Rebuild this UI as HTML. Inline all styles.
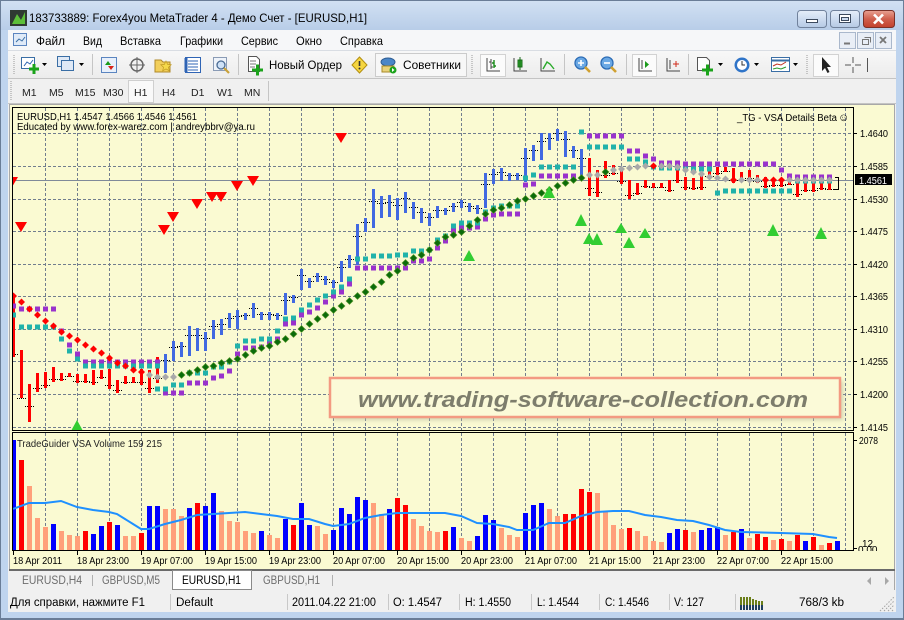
<!DOCTYPE html>
<html><head><meta charset="utf-8">
<style>
html,body{margin:0;padding:0;width:904px;height:620px;overflow:hidden;background:#bcd2ee}
svg{display:block}
text{font-family:"Liberation Sans","DejaVu Sans",sans-serif}
</style></head><body>
<svg width="904" height="620" viewBox="0 0 904 620" xmlns="http://www.w3.org/2000/svg">
<defs>
<linearGradient id="tg" x1="0" y1="0" x2="0" y2="1"><stop offset="0" stop-color="#d2e1f3"/><stop offset="1" stop-color="#b8cde8"/></linearGradient>
<linearGradient id="bb" x1="0" y1="0" x2="0" y2="1"><stop offset="0" stop-color="#e6eef9"/><stop offset="0.5" stop-color="#cddcf0"/><stop offset="1" stop-color="#b5c9e4"/></linearGradient>
<linearGradient id="rb" x1="0" y1="0" x2="0" y2="1"><stop offset="0" stop-color="#e8a293"/><stop offset="0.5" stop-color="#d0604e"/><stop offset="1" stop-color="#c2402c"/></linearGradient>
<linearGradient id="tb" x1="0" y1="0" x2="0" y2="1"><stop offset="0" stop-color="#f8f8f8"/><stop offset="1" stop-color="#ececec"/></linearGradient>
<clipPath id="cm"><rect x="13" y="108" width="840" height="322"/></clipPath>
<clipPath id="cv"><rect x="13" y="433" width="840" height="117"/></clipPath>
<clipPath id="ca"><rect x="854" y="433" width="40" height="118"/></clipPath>
<filter id="sh" x="-5%" y="-30%" width="110%" height="160%"><feGaussianBlur stdDeviation="2"/></filter>
</defs>

<!-- window frame -->
<rect x="0" y="0" width="904" height="620" fill="#bfd4ee"/>
<rect x="0" y="0" width="904" height="30" fill="url(#tg)"/>
<rect x="0.5" y="0.5" width="903" height="619" fill="none" stroke="#6a7d97"/>
<rect x="8" y="30" width="888" height="582" fill="#f0f0f0"/>

<!-- title -->
<rect x="10" y="10" width="17" height="16" fill="#2f3a33"/>
<path d="M12 24l5-10 4 6 4-8v12z" fill="#5cbf3a"/>
<text x="29" y="22" font-size="12" fill="#000" textLength="338" lengthAdjust="spacingAndGlyphs">183733889: Forex4you MetaTrader 4 - Демо Счет - [EURUSD,H1]</text>
<rect x="797.5" y="10.5" width="29" height="17" rx="3" fill="url(#bb)" stroke="#71829c"/>
<rect x="806.5" y="19.5" width="11" height="3" fill="#fff" stroke="#3c4a5e"/>
<rect x="830.5" y="10.5" width="29" height="17" rx="3" fill="url(#bb)" stroke="#71829c"/>
<rect x="839.5" y="14.5" width="11" height="8" fill="#fff" stroke="#3c4a5e"/><rect x="841.5" y="17.5" width="7" height="3" fill="#cddcf0" stroke="#3c4a5e"/>
<rect x="863.5" y="10.5" width="31" height="17" rx="3" fill="url(#rb)" stroke="#7a3027"/>
<path d="M874 14.5l9 9M883 14.5l-9 9" stroke="#fff" stroke-width="2.6"/>

<!-- menu -->
<rect x="8" y="30" width="888" height="20" fill="#f6f7f9"/>
<rect x="13.5" y="33.5" width="13" height="12" fill="#dfeaf8" stroke="#5b85c0"/><path d="M16 42l3-3 3 2 3-4" stroke="#3a6ea5" fill="none"/>
<g font-size="12" fill="#000">
<text x="36" y="45" textLength="29" lengthAdjust="spacingAndGlyphs">Файл</text>
<text x="83" y="45" textLength="19" lengthAdjust="spacingAndGlyphs">Вид</text>
<text x="120" y="45" textLength="41" lengthAdjust="spacingAndGlyphs">Вставка</text>
<text x="180" y="45" textLength="43" lengthAdjust="spacingAndGlyphs">Графики</text>
<text x="241" y="45" textLength="37" lengthAdjust="spacingAndGlyphs">Сервис</text>
<text x="296" y="45" textLength="26" lengthAdjust="spacingAndGlyphs">Окно</text>
<text x="340" y="45" textLength="43" lengthAdjust="spacingAndGlyphs">Справка</text>
</g>
<g fill="#e9eef6" stroke="#aab8cc">
<rect x="839.5" y="32.5" width="16" height="16"/><rect x="857.5" y="32.5" width="16" height="16"/><rect x="875.5" y="32.5" width="16" height="16"/>
</g>
<path d="M844 43.5h6" stroke="#777" stroke-width="2"/>
<path d="M862.5 39.5h6v5h-6zM864.5 37.5h6v5" fill="none" stroke="#777"/>
<path d="M880 37l6 6M886 37l-6 6" stroke="#777" stroke-width="1.8"/>

<!-- toolbar row -->
<rect x="8" y="50" width="888" height="28" fill="url(#tb)"/>
<path d="M8 50.5h888" stroke="#d9dde3"/>
<path d="M8 78.5h888" stroke="#c4c4c4"/>
<path d="M14 55v20" stroke="#9a9a9a" stroke-dasharray="1 1"/>
<rect x="21.5" y="57.5" width="13" height="11" fill="#fff" stroke="#3a6ea5"/>
<path d="M24 66l3-4 3 2 3-4" stroke="#2a62b0" fill="none"/>
<path d="M29 69h10M34 64v10" stroke="#1aa31a" stroke-width="3"/>
<path d="M42 63h5l-2.5 3z" fill="#000"/>
<rect x="57.5" y="56.5" width="12" height="10" fill="#dfe9f6" stroke="#3a6ea5"/>
<rect x="61.5" y="60.5" width="12" height="10" fill="#dfe9f6" stroke="#3a6ea5"/>
<path d="M79 63h5l-2.5 3z" fill="#000"/>
<path d="M92.5 54v21" stroke="#c5c5c5"/>
<rect x="101.5" y="57.5" width="15" height="15" fill="#e8f0fb" stroke="#5b85c0"/>
<path d="M105 65l3-4 3 4z" fill="#1a9a1a"/><path d="M108 66l3 4 3-4z" fill="#d8251a"/>
<circle cx="137" cy="65" r="6" fill="none" stroke="#666" stroke-width="1.5"/>
<path d="M137 57v16M129 65h16" stroke="#666"/>
<path d="M155 60h6l2 2h7v10h-15z" fill="#f2cf5b" stroke="#b08a2a"/>
<path d="M166 61l1.6 3.4 3.6.4-2.7 2.4.8 3.6-3.3-1.9-3.3 1.9.8-3.6-2.7-2.4 3.6-.4z" fill="#f5d84a" stroke="#c09a20" stroke-width=".7"/>
<rect x="185.5" y="57.5" width="15" height="15" fill="#fff" stroke="#2f64b5"/>
<path d="M188 61h10M188 64h10M188 67h10M188 70h10" stroke="#2f64b5"/><path d="M186 58v14" stroke="#2f64b5" stroke-width="3"/>
<rect x="213.5" y="57.5" width="13" height="13" fill="#eef3fa" stroke="#8a9bb5"/>
<circle cx="221" cy="65" r="4" fill="#cfe2f7" stroke="#4a6b94" stroke-width="1.3"/><path d="M224 68l5 5" stroke="#c9a23a" stroke-width="2.2"/>
<path d="M238.5 54v21" stroke="#c5c5c5"/>
<path d="M248.5 56.5h8l3 3v12h-11z" fill="#fff" stroke="#555"/>
<path d="M250 61h6M250 64h6M250 67h5" stroke="#777"/>
<path d="M252 70h11M257.5 64.5v11" stroke="#1aa31a" stroke-width="3"/>
<text x="269" y="69" font-size="12" fill="#000" textLength="73" lengthAdjust="spacingAndGlyphs">Новый Ордер</text>
<path d="M359.5 57l7.5 8-7.5 8-7.5-8z" fill="#f6d640" stroke="#b38f10"/>
<path d="M359.5 61v5" stroke="#333" stroke-width="1.6"/><circle cx="359.5" cy="68.5" r="1" fill="#333"/>
<rect x="375.5" y="53.5" width="91" height="23" fill="#f7f7f7" stroke="#cbcbcb"/>
<ellipse cx="388" cy="62" rx="7" ry="4" fill="#4a86c8" stroke="#2c5a90"/>
<path d="M382 66h12v6h-12z" fill="#e9d27a" stroke="#a88a2a"/>
<circle cx="393" cy="70" r="3.5" fill="#1aa31a"/><path d="M392 68v4l2.5-2z" fill="#fff"/>
<text x="403" y="69" font-size="12" fill="#000" textLength="58" lengthAdjust="spacingAndGlyphs">Советники</text>
<path d="M472 55v20" stroke="#9a9a9a" stroke-dasharray="1 1"/>
<rect x="480.5" y="54.5" width="25" height="22" fill="#fbfbfb" stroke="#d2d2d2"/>
<path d="M487 58v13h13M491 59v10M489 62h2M491 67h2" stroke="#444" fill="none"/><path d="M494 60v8M492 63h2M494 66h2" stroke="#1a8a1a" fill="none" stroke-width="1.4"/>
<path d="M514 58v13h13" stroke="#444" fill="none"/><rect x="518" y="60" width="4" height="7" fill="#2aaa2a" stroke="#1a6a1a"/><path d="M520 57v13" stroke="#1a6a1a"/>
<path d="M541 58v13h14" stroke="#444" fill="none"/><path d="M543 69l4-7 3 2 4 5" stroke="#2aaa2a" fill="none" stroke-width="1.4"/>
<path d="M564.5 54v21" stroke="#c5c5c5"/>
<circle cx="581" cy="63" r="6" fill="#6aa8e4" stroke="#2c6cb5" stroke-width="1.3"/><path d="M578 63h6M581 60v6" stroke="#fff" stroke-width="1.6"/><path d="M585 67l5 5" stroke="#d0a030" stroke-width="2.6"/>
<circle cx="607" cy="63" r="6" fill="#6aa8e4" stroke="#2c6cb5" stroke-width="1.3"/><path d="M604 63h6" stroke="#fff" stroke-width="1.6"/><path d="M611 67l5 5" stroke="#d0a030" stroke-width="2.6"/>
<path d="M626.5 54v21" stroke="#c5c5c5"/>
<rect x="632.5" y="54.5" width="24" height="22" fill="#fbfbfb" stroke="#d2d2d2"/>
<path d="M639 58v13h13M642 60v9" stroke="#444" fill="none"/><path d="M645 61v7l4-3.5z" fill="#1a9a1a"/>
<path d="M667 58v13h13M670 60v9" stroke="#444" fill="none"/><path d="M673 64h6M676 61v6" stroke="#d02a1a"/>
<path d="M688.5 54v21" stroke="#c5c5c5"/>
<path d="M697.5 57.5h9l3 3v10h-12z" fill="#fff" stroke="#555"/><path d="M702 70h11M707.5 64.5v11" stroke="#1aa31a" stroke-width="3"/>
<path d="M718 63h5l-2.5 3z" fill="#000"/>
<circle cx="742" cy="65" r="7.5" fill="#2f74c8"/><circle cx="742" cy="65" r="5" fill="#fff"/><path d="M742 61v4h3" stroke="#333" fill="none"/>
<path d="M754 63h5l-2.5 3z" fill="#000"/>
<rect x="771.5" y="57.5" width="18" height="14" fill="#fff" stroke="#3a6ea5"/><path d="M771.5 60.5h18" stroke="#3a6ea5" stroke-width="2"/><path d="M773 66l4-2 4 1 5-3" stroke="#c03020" fill="none"/><path d="M773 69l4-1 4 1 5-2" stroke="#2a9a2a" fill="none"/>
<path d="M793 63h5l-2.5 3z" fill="#000"/>
<path d="M807 55v20" stroke="#9a9a9a" stroke-dasharray="1 1"/>
<rect x="813.5" y="54.5" width="25" height="22" fill="#fbfbfb" stroke="#d2d2d2"/>
<path d="M822 57v14l3-3 2.5 5 2-1-2.5-5h4z" fill="#222"/>
<path d="M853 57v6M853 67v6M845 65h6M855 65h6" stroke="#555"/>
<path d="M867.5 58v14" stroke="#555"/>

<!-- timeframe row -->
<path d="M8 103.5h888" stroke="#c4c4c4"/>
<path d="M11 81v20" stroke="#9a9a9a" stroke-dasharray="1 1"/>
<rect x="128.5" y="80.5" width="25" height="22" fill="#f9f9f9" stroke="#cfcfcf"/>
<g font-size="10.5" fill="#222">
<text x="22" y="96">M1</text><text x="49" y="96">M5</text><text x="75" y="96">M15</text><text x="103" y="96">M30</text>
<text x="134" y="96">H1</text><text x="162" y="96">H4</text><text x="191" y="96">D1</text><text x="217" y="96">W1</text><text x="244" y="96">MN</text>
</g>
<path d="M268.5 81v20" stroke="#c5c5c5"/>

<!-- chart window -->
<rect x="9" y="104" width="886" height="467" fill="#fafad2"/>
<path d="M9 104.5h886M9.5 104v467M894.5 104v467" stroke="#a8a8a8"/>
<path d="M9 570h886" stroke="#6a6a6a" stroke-width="2"/>

<!-- main grid -->
<g stroke="#717d8e" stroke-dasharray="3 2" fill="none">
<path d="M45.5 108V430M77.5 108V430M109.5 108V430M141.5 108V430M173.5 108V430M205.5 108V430M237.5 108V430M269.5 108V430M301.5 108V430M333.5 108V430M365.5 108V430M397.5 108V430M429.5 108V430M461.5 108V430M493.5 108V430M525.5 108V430M557.5 108V430M589.5 108V430M621.5 108V430M653.5 108V430M685.5 108V430M717.5 108V430M749.5 108V430M781.5 108V430M813.5 108V430M845.5 108V430"/>
<path d="M13 133.5H853M13 166.5H853M13 199.5H853M13 231.5H853M13 264.5H853M13 296.5H853M13 329.5H853M13 361.5H853M13 394.5H853M13 427.5H853"/>
<path d="M45.5 433V550M77.5 433V550M109.5 433V550M141.5 433V550M173.5 433V550M205.5 433V550M237.5 433V550M269.5 433V550M301.5 433V550M333.5 433V550M365.5 433V550M397.5 433V550M429.5 433V550M461.5 433V550M493.5 433V550M525.5 433V550M557.5 433V550M589.5 433V550M621.5 433V550M653.5 433V550M685.5 433V550M717.5 433V550M749.5 433V550M781.5 433V550M813.5 433V550M845.5 433V550"/>
</g>

<!-- watermark -->
<rect x="333" y="381" width="510" height="39" fill="#b8b698" opacity="0.6" filter="url(#sh)"/>
<rect x="330" y="378" width="510" height="39" fill="#fbfad8" stroke="#f39a82" stroke-width="2.5"/>
<text x="358" y="407" font-size="22" font-weight="bold" font-style="italic" fill="#7d7d6c" textLength="450" lengthAdjust="spacingAndGlyphs">www.trading-software-collection.com</text>

<g clip-path="url(#cm)">
<path d="M13 180.5H853" stroke="#7f8a99"/>
<path stroke="#000" stroke-dasharray="1 1" fill="none" d="M9 354.5h10M17 398.5h10M25 406.5h10M33 388.5h10M41 385.5h10M49 379.5h10M57 379.5h10M65 376.5h10M73 381.5h10M81 381.5h10M89 382.5h10M97 377.5h10M105 385.5h10M113 390.5h10M121 382.5h10M129 382.5h10M137 382.5h10M145 388.5h10M153 378.5h10M161 360.5h10M169 347.5h10M177 346.5h10M185 335.5h10M193 335.5h10M201 338.5h10M209 326.5h10M217 324.5h10M225 318.5h10M233 316.5h10M241 315.5h10M249 308.5h10M257 314.5h10M265 314.5h10M273 315.5h10M281 300.5h10M289 297.5h10M297 275.5h10M305 281.5h10M313 276.5h10M321 279.5h10M329 282.5h10M337 267.5h10M345 259.5h10M353 236.5h10M361 222.5h10M369 201.5h10M377 203.5h10M385 202.5h10M393 205.5h10M401 198.5h10M409 207.5h10M417 212.5h10M425 217.5h10M433 210.5h10M441 210.5h10M449 206.5h10M457 202.5h10M465 206.5h10M473 208.5h10M481 184.5h10M489 174.5h10M497 172.5h10M505 175.5h10M513 175.5h10M521 158.5h10M529 150.5h10M537 141.5h10M545 138.5h10M553 133.5h10M561 139.5h10M569 150.5h10M577 158.5h10M585 188.5h10M593 192.5h10M601 175.5h10M609 173.5h10M617 181.5h10M625 195.5h10M633 193.5h10M641 186.5h10M649 187.5h10M657 187.5h10M665 190.5h10M673 180.5h10M681 187.5h10M689 188.5h10M697 187.5h10M705 176.5h10M713 173.5h10M721 171.5h10M729 180.5h10M737 180.5h10M745 178.5h10M753 181.5h10M761 186.5h10M769 185.5h10M777 185.5h10M785 184.5h10M793 194.5h10M801 190.5h10M809 190.5h10M817 188.5h10M825 189.5h10"/>
<path stroke="#ff0000" stroke-width="3" fill="none" d="M13.5 295V357M21.5 350V398M29.5 384V422M37.5 373V392M45.5 372V388M53.5 367V382M61.5 373V381M69.5 373V377M77.5 374V383M85.5 374V383M93.5 370V385M101.5 370V379M109.5 369V389M117.5 380V393M125.5 376V384M133.5 377V383M141.5 369V385M149.5 370V393M157.5 357V383M589.5 158V196M597.5 170V197M605.5 161V178M613.5 165V175M621.5 167V184M629.5 180V199M637.5 183V195M645.5 180V188M653.5 183V188M661.5 183V188M669.5 180V192M677.5 170V183M685.5 177V190M693.5 178V190M701.5 175V190M709.5 168V178M717.5 167V175M725.5 167V172M733.5 168V183M741.5 172V182M749.5 170V180M757.5 175V183M765.5 177V188M773.5 178V187M781.5 178V187M789.5 180V185M797.5 180V197M805.5 182V192M813.5 180V192M821.5 182V190M829.5 183V190"/>
<path stroke="#4169e1" stroke-width="3" fill="none" d="M165.5 354V373M173.5 341V361M181.5 342V357M189.5 326V356M197.5 328V351M205.5 332V351M213.5 320V339M221.5 319V335M229.5 313V328M237.5 310V329M245.5 313V320M253.5 303V318M261.5 312V320M269.5 312V320M277.5 313V320M285.5 293V315M293.5 295V303M301.5 269V290M309.5 278V288M317.5 273V282M325.5 276V285M333.5 280V288M341.5 261V282M349.5 255V268M357.5 224V265M365.5 218V232M373.5 189V228M381.5 196V218M389.5 195V217M397.5 198V220M405.5 192V213M413.5 202V219M421.5 208V223M429.5 213V226M437.5 206V218M445.5 208V215M453.5 203V212M461.5 200V208M469.5 203V212M477.5 205V214M485.5 173V208M493.5 169V184M501.5 168V181M509.5 173V181M517.5 173V180M525.5 148V182M533.5 145V161M541.5 133V160M549.5 133V150M557.5 129V141M565.5 131V157M573.5 146V158M581.5 149V180"/>
<path d="M835 177.5h3.5V189.5H834" stroke="#000" fill="none"/>
<path stroke="#9932cc" stroke-width="5" fill="none" d="M11 306h5M19 309h5M27 309h5M35 309h5M43 309h5M51 309h5M59 331h5M67 345h5M75 354h5M83 362h5M91 362h5M99 362h5M107 362h5M115 362h5M123 362h5M131 362h5M139 362h5M147 362h5M155 362h5M163 393h5M171 393h5M179 393h5M187 383h5M195 383h5M203 383h5M211 378h5M219 376h5M227 371h5M235 354h5M243 348h5M251 348h5M259 347h5M267 343h5M275 339h5M283 324h5M291 323h5M299 315h5M307 312h5M315 308h5M323 302h5M331 296h5M339 292h5M347 284h5M355 268h5M363 268h5M371 268h5M379 268h5M387 268h5M395 268h5M403 268h5M411 261h5M419 261h5M427 259h5M435 248h5M443 241h5M451 231h5M459 228h5M467 228h5M475 227h5M483 219h5M491 215h5M499 214h5M507 214h5M515 214h5M523 185h5M531 184h5M539 176h5M547 176h5M555 176h5M563 176h5M571 176h5M587 136h5M595 136h5M603 136h5M611 136h5M619 136h5M627 151h5M635 151h5M643 156h5M651 159h5M659 163h5M667 163h5M675 163h5M683 164h5M691 164h5M699 164h5M707 164h5M715 164h5M723 164h5M731 164h5M739 164h5M747 164h5M755 164h5M763 164h5M771 164h5M779 170h5M787 176h5M795 177h5M803 177h5M811 177h5M819 177h5M827 177h5"/>
<path stroke="#20b2aa" stroke-width="5" fill="none" d="M11 315h5M19 327h5M27 327h5M35 327h5M43 327h5M51 327h5M59 339h5M67 351h5M75 359h5M83 366h5M91 366h5M99 366h5M107 366h5M115 366h5M123 366h5M131 366h5M139 366h5M147 366h5M155 366h5M155 389h5M163 389h5M171 385h5M179 385h5M187 373h5M195 373h5M203 373h5M211 367h5M219 367h5M227 362h5M235 346h5M243 341h5M251 341h5M259 339h5M267 339h5M275 331h5M283 319h5M291 318h5M299 310h5M307 305h5M315 300h5M323 296h5M331 292h5M339 287h5M347 279h5M355 259h5M363 259h5M371 256h5M379 256h5M387 256h5M395 255h5M403 255h5M411 251h5M419 251h5M427 250h5M435 240h5M443 236h5M451 226h5M459 223h5M467 223h5M475 223h5M483 212h5M491 208h5M499 206h5M507 206h5M515 206h5M523 178h5M531 175h5M539 167h5M547 167h5M555 167h5M563 167h5M571 167h5M579 132h5M587 147h5M595 147h5M603 147h5M611 147h5M619 147h5M627 159h5M635 159h5M643 162h5M651 167h5M659 168h5M667 168h5M675 168h5M683 169h5M691 169h5M699 169h5M707 169h5M715 193h5M723 191h5M731 191h5M739 191h5M747 191h5M755 191h5M763 191h5M771 191h5M779 191h5M787 191h5M795 181h5M803 181h5M811 181h5M819 181h5M827 181h5"/>
<path fill="#ff0000" d="M13.5 292.5l3.5 3.5-3.5 3.5-3.5-3.5zM21.5 298.5l3.5 3.5-3.5 3.5-3.5-3.5zM29.5 305.5l3.5 3.5-3.5 3.5-3.5-3.5zM37.5 311.5l3.5 3.5-3.5 3.5-3.5-3.5zM45.5 317.5l3.5 3.5-3.5 3.5-3.5-3.5zM53.5 322.5l3.5 3.5-3.5 3.5-3.5-3.5zM61.5 328.5l3.5 3.5-3.5 3.5-3.5-3.5zM69.5 332.5l3.5 3.5-3.5 3.5-3.5-3.5zM77.5 336.5l3.5 3.5-3.5 3.5-3.5-3.5zM85.5 341.5l3.5 3.5-3.5 3.5-3.5-3.5zM93.5 345.5l3.5 3.5-3.5 3.5-3.5-3.5zM101.5 349.5l3.5 3.5-3.5 3.5-3.5-3.5zM109.5 354.5l3.5 3.5-3.5 3.5-3.5-3.5zM117.5 359.5l3.5 3.5-3.5 3.5-3.5-3.5zM125.5 362.5l3.5 3.5-3.5 3.5-3.5-3.5zM133.5 366.5l3.5 3.5-3.5 3.5-3.5-3.5zM141.5 368.5l3.5 3.5-3.5 3.5-3.5-3.5zM653.5 162.5l3.5 3.5-3.5 3.5-3.5-3.5zM733.5 176.5l3.5 3.5-3.5 3.5-3.5-3.5zM765.5 176.5l3.5 3.5-3.5 3.5-3.5-3.5zM773.5 176.5l3.5 3.5-3.5 3.5-3.5-3.5zM781.5 176.5l3.5 3.5-3.5 3.5-3.5-3.5z"/>
<path fill="#a9a9a9" d="M149.5 371.5l3.5 3.5-3.5 3.5-3.5-3.5zM157.5 373.5l3.5 3.5-3.5 3.5-3.5-3.5zM165.5 373.5l3.5 3.5-3.5 3.5-3.5-3.5zM173.5 373.5l3.5 3.5-3.5 3.5-3.5-3.5zM589.5 171.5l3.5 3.5-3.5 3.5-3.5-3.5zM597.5 171.5l3.5 3.5-3.5 3.5-3.5-3.5zM613.5 166.5l3.5 3.5-3.5 3.5-3.5-3.5zM621.5 165.5l3.5 3.5-3.5 3.5-3.5-3.5zM629.5 164.5l3.5 3.5-3.5 3.5-3.5-3.5zM637.5 163.5l3.5 3.5-3.5 3.5-3.5-3.5zM645.5 162.5l3.5 3.5-3.5 3.5-3.5-3.5zM661.5 162.5l3.5 3.5-3.5 3.5-3.5-3.5zM669.5 162.5l3.5 3.5-3.5 3.5-3.5-3.5zM677.5 163.5l3.5 3.5-3.5 3.5-3.5-3.5zM685.5 166.5l3.5 3.5-3.5 3.5-3.5-3.5zM693.5 168.5l3.5 3.5-3.5 3.5-3.5-3.5zM701.5 170.5l3.5 3.5-3.5 3.5-3.5-3.5zM709.5 173.5l3.5 3.5-3.5 3.5-3.5-3.5zM717.5 174.5l3.5 3.5-3.5 3.5-3.5-3.5zM725.5 175.5l3.5 3.5-3.5 3.5-3.5-3.5zM741.5 176.5l3.5 3.5-3.5 3.5-3.5-3.5zM749.5 176.5l3.5 3.5-3.5 3.5-3.5-3.5zM757.5 176.5l3.5 3.5-3.5 3.5-3.5-3.5zM789.5 176.5l3.5 3.5-3.5 3.5-3.5-3.5zM797.5 176.5l3.5 3.5-3.5 3.5-3.5-3.5zM805.5 176.5l3.5 3.5-3.5 3.5-3.5-3.5zM813.5 176.5l3.5 3.5-3.5 3.5-3.5-3.5zM821.5 176.5l3.5 3.5-3.5 3.5-3.5-3.5zM829.5 176.5l3.5 3.5-3.5 3.5-3.5-3.5z"/>
<path fill="#0b6b0b" stroke="#5a9a2a" stroke-width="0.6" d="M181.5 371.5l3.5 3.5-3.5 3.5-3.5-3.5zM189.5 369.5l3.5 3.5-3.5 3.5-3.5-3.5zM197.5 366.5l3.5 3.5-3.5 3.5-3.5-3.5zM205.5 363.5l3.5 3.5-3.5 3.5-3.5-3.5zM213.5 362.5l3.5 3.5-3.5 3.5-3.5-3.5zM221.5 359.5l3.5 3.5-3.5 3.5-3.5-3.5zM229.5 357.5l3.5 3.5-3.5 3.5-3.5-3.5zM237.5 355.5l3.5 3.5-3.5 3.5-3.5-3.5zM245.5 351.5l3.5 3.5-3.5 3.5-3.5-3.5zM253.5 347.5l3.5 3.5-3.5 3.5-3.5-3.5zM261.5 344.5l3.5 3.5-3.5 3.5-3.5-3.5zM269.5 342.5l3.5 3.5-3.5 3.5-3.5-3.5zM277.5 338.5l3.5 3.5-3.5 3.5-3.5-3.5zM285.5 335.5l3.5 3.5-3.5 3.5-3.5-3.5zM293.5 330.5l3.5 3.5-3.5 3.5-3.5-3.5zM301.5 325.5l3.5 3.5-3.5 3.5-3.5-3.5zM309.5 320.5l3.5 3.5-3.5 3.5-3.5-3.5zM317.5 315.5l3.5 3.5-3.5 3.5-3.5-3.5zM325.5 311.5l3.5 3.5-3.5 3.5-3.5-3.5zM333.5 306.5l3.5 3.5-3.5 3.5-3.5-3.5zM341.5 302.5l3.5 3.5-3.5 3.5-3.5-3.5zM349.5 297.5l3.5 3.5-3.5 3.5-3.5-3.5zM357.5 292.5l3.5 3.5-3.5 3.5-3.5-3.5zM365.5 288.5l3.5 3.5-3.5 3.5-3.5-3.5zM373.5 283.5l3.5 3.5-3.5 3.5-3.5-3.5zM381.5 278.5l3.5 3.5-3.5 3.5-3.5-3.5zM389.5 271.5l3.5 3.5-3.5 3.5-3.5-3.5zM397.5 267.5l3.5 3.5-3.5 3.5-3.5-3.5zM405.5 259.5l3.5 3.5-3.5 3.5-3.5-3.5zM413.5 254.5l3.5 3.5-3.5 3.5-3.5-3.5zM421.5 251.5l3.5 3.5-3.5 3.5-3.5-3.5zM429.5 246.5l3.5 3.5-3.5 3.5-3.5-3.5zM437.5 239.5l3.5 3.5-3.5 3.5-3.5-3.5zM445.5 233.5l3.5 3.5-3.5 3.5-3.5-3.5zM453.5 231.5l3.5 3.5-3.5 3.5-3.5-3.5zM461.5 228.5l3.5 3.5-3.5 3.5-3.5-3.5zM469.5 222.5l3.5 3.5-3.5 3.5-3.5-3.5zM477.5 216.5l3.5 3.5-3.5 3.5-3.5-3.5zM485.5 210.5l3.5 3.5-3.5 3.5-3.5-3.5zM493.5 206.5l3.5 3.5-3.5 3.5-3.5-3.5zM501.5 204.5l3.5 3.5-3.5 3.5-3.5-3.5zM509.5 201.5l3.5 3.5-3.5 3.5-3.5-3.5zM517.5 197.5l3.5 3.5-3.5 3.5-3.5-3.5zM525.5 195.5l3.5 3.5-3.5 3.5-3.5-3.5zM533.5 192.5l3.5 3.5-3.5 3.5-3.5-3.5zM541.5 189.5l3.5 3.5-3.5 3.5-3.5-3.5zM549.5 186.5l3.5 3.5-3.5 3.5-3.5-3.5zM557.5 182.5l3.5 3.5-3.5 3.5-3.5-3.5zM565.5 179.5l3.5 3.5-3.5 3.5-3.5-3.5zM573.5 176.5l3.5 3.5-3.5 3.5-3.5-3.5zM581.5 174.5l3.5 3.5-3.5 3.5-3.5-3.5zM605.5 168.5l3.5 3.5-3.5 3.5-3.5-3.5z"/>
<path fill="#ff0000" d="M6 177h12l-6 10zM15 222h12l-6 10zM158 225h12l-6 10zM167 212h12l-6 10zM191 199h12l-6 10zM206 192h12l-6 10zM215 192h12l-6 10zM231 181h12l-6 10zM247 176h12l-6 10zM335 133h12l-6 10z"/>
<path fill="#32cd32" d="M71 431h12l-6-11zM463 261h12l-6-11zM543 198h12l-6-12zM575 226h12l-6-12zM583 244h12l-6-11zM591 245h12l-6-12zM615 233h12l-6-10zM623 248h12l-6-11zM639 238h12l-6-10zM767 236h12l-6-12zM815 239h12l-6-12z"/>
</g>

<!-- volume -->
<g clip-path="url(#cv)">
<path stroke="#0000ff" stroke-width="5" fill="none" d="M13.5 440V550M53.5 524V550M93.5 534V550M101.5 526V550M117.5 525V550M149.5 506V550M157.5 506V550M189.5 508V550M205.5 506V550M213.5 493V550M261.5 531V550M285.5 519V550M301.5 503V550M309.5 525V550M333.5 530V550M341.5 508V550M349.5 514V550M357.5 497V550M365.5 500V550M389.5 509V550M453.5 527V550M477.5 536V550M485.5 515V550M493.5 520V550M525.5 513V550M533.5 505V550M541.5 503V550M669.5 533V550M677.5 529V550M701.5 530V550M709.5 528V550M717.5 527V550M741.5 529V550M805.5 541V550M837.5 541V550"/>
<path stroke="#ff0000" stroke-width="5" fill="none" d="M21.5 460V550M85.5 531V550M109.5 522V550M141.5 533V550M197.5 503V550M293.5 525V550M397.5 498V550M405.5 505V550M445.5 531V550M565.5 514V550M573.5 514V550M581.5 489V550M589.5 492V550M629.5 528V550M685.5 530V550M733.5 532V550M757.5 534V550M765.5 537V550M781.5 539V550M797.5 535V550M813.5 537V550M829.5 543V550"/>
<path stroke="#ffa07a" stroke-width="5" fill="none" d="M29.5 486V550M37.5 518V550M45.5 527V550M61.5 531V550M69.5 535V550M77.5 536V550M125.5 536V550M133.5 536V550M165.5 509V550M173.5 509V550M181.5 516V550M221.5 511V550M229.5 521V550M237.5 522V550M245.5 531V550M253.5 533V550M269.5 535V550M277.5 538V550M317.5 526V550M325.5 534V550M373.5 503V550M381.5 514V550M413.5 519V550M421.5 526V550M429.5 531V550M437.5 532V550M461.5 538V550M469.5 541V550M501.5 528V550M509.5 535V550M517.5 537V550M549.5 509V550M557.5 516V550M597.5 493V550M605.5 512V550M613.5 525V550M621.5 529V550M637.5 531V550M645.5 536V550M653.5 541V550M661.5 542V550M693.5 532V550M725.5 535V550M749.5 538V550M773.5 540V550M789.5 541V550M821.5 545V550"/>
<polyline fill="none" stroke="#1e90ff" stroke-width="2" points="13,509 29,503 45,503 61,501 77,507 93,510 109,512 117,514 125,519 133,524 141,529 149,529 165,524 181,520 197,515 213,514 245,512 261,514 277,516 293,519 309,519 325,524 333,526 349,524 365,518 381,515 397,513 445,513 461,516 477,523 493,524 509,527 517,530 533,530 549,523 565,523 581,516 597,512 613,511 629,511 645,515 661,517 677,520 693,521 709,525 725,530 741,532 781,533 813,534 829,537 837,538"/>
</g>

<!-- plot borders -->
<rect x="12.5" y="107.5" width="841" height="323" fill="none" stroke="#000"/>
<rect x="12.5" y="432.5" width="841" height="118" fill="none" stroke="#000"/>

<!-- chart texts -->
<g font-size="10" fill="#000">
<text x="17" y="120" textLength="180" lengthAdjust="spacingAndGlyphs">EURUSD,H1  1.4547 1.4566 1.4546 1.4561</text>
<text x="17" y="130" textLength="238" lengthAdjust="spacingAndGlyphs">Educated by www.forex-warez.com | andreybbrv@ya.ru</text>
<text x="737" y="121" textLength="100" lengthAdjust="spacingAndGlyphs">_TG - VSA Details Beta</text>
<text x="838" y="121" font-size="11" font-family="DejaVu Sans, sans-serif">☺</text>
<text x="17" y="447" fill="#222" textLength="145" lengthAdjust="spacingAndGlyphs">TradeGuider VSA Volume 159 215</text>
</g>

<!-- price axis -->
<path stroke="#000" d="M853 133.5h4M853 166.5h4M853 199.5h4M853 231.5h4M853 264.5h4M853 296.5h4M853 329.5h4M853 361.5h4M853 394.5h4M853 427.5h4M853 440.5h4M853 548.5h4"/>
<g font-size="10" fill="#000">
<text x="860" y="137" textLength="28" lengthAdjust="spacingAndGlyphs">1.4640</text>
<text x="860" y="170" textLength="28" lengthAdjust="spacingAndGlyphs">1.4585</text>
<text x="860" y="203" textLength="28" lengthAdjust="spacingAndGlyphs">1.4530</text>
<text x="860" y="235" textLength="28" lengthAdjust="spacingAndGlyphs">1.4475</text>
<text x="860" y="268" textLength="28" lengthAdjust="spacingAndGlyphs">1.4420</text>
<text x="860" y="300" textLength="28" lengthAdjust="spacingAndGlyphs">1.4365</text>
<text x="860" y="333" textLength="28" lengthAdjust="spacingAndGlyphs">1.4310</text>
<text x="860" y="365" textLength="28" lengthAdjust="spacingAndGlyphs">1.4255</text>
<text x="860" y="398" textLength="28" lengthAdjust="spacingAndGlyphs">1.4200</text>
<text x="860" y="431" textLength="28" lengthAdjust="spacingAndGlyphs">1.4145</text>
<text x="859" y="444" textLength="19" lengthAdjust="spacingAndGlyphs">2078</text>
</g>
<rect x="855" y="174" width="37" height="11" fill="#000"/>
<text x="859" y="184" font-size="10" fill="#fff" textLength="28" lengthAdjust="spacingAndGlyphs">1.4561</text>
<g clip-path="url(#ca)" font-size="10" fill="#000">
<text x="862" y="547">12</text>
<text x="858" y="553">0.00</text>
</g>

<!-- time axis -->
<path stroke="#000" d="M13.5 551v4M77.5 551v4M141.5 551v4M205.5 551v4M269.5 551v4M333.5 551v4M397.5 551v4M461.5 551v4M525.5 551v4M589.5 551v4M653.5 551v4M717.5 551v4M781.5 551v4"/>
<g font-size="10" fill="#000">
<text x="13" y="564" textLength="49" lengthAdjust="spacingAndGlyphs">18 Apr 2011</text>
<text x="77" y="564" textLength="52" lengthAdjust="spacingAndGlyphs">18 Apr 23:00</text>
<text x="141" y="564" textLength="52" lengthAdjust="spacingAndGlyphs">19 Apr 07:00</text>
<text x="205" y="564" textLength="52" lengthAdjust="spacingAndGlyphs">19 Apr 15:00</text>
<text x="269" y="564" textLength="52" lengthAdjust="spacingAndGlyphs">19 Apr 23:00</text>
<text x="333" y="564" textLength="52" lengthAdjust="spacingAndGlyphs">20 Apr 07:00</text>
<text x="397" y="564" textLength="52" lengthAdjust="spacingAndGlyphs">20 Apr 15:00</text>
<text x="461" y="564" textLength="52" lengthAdjust="spacingAndGlyphs">20 Apr 23:00</text>
<text x="525" y="564" textLength="52" lengthAdjust="spacingAndGlyphs">21 Apr 07:00</text>
<text x="589" y="564" textLength="52" lengthAdjust="spacingAndGlyphs">21 Apr 15:00</text>
<text x="653" y="564" textLength="52" lengthAdjust="spacingAndGlyphs">21 Apr 23:00</text>
<text x="717" y="564" textLength="52" lengthAdjust="spacingAndGlyphs">22 Apr 07:00</text>
<text x="781" y="564" textLength="52" lengthAdjust="spacingAndGlyphs">22 Apr 15:00</text>
</g>

<!-- tabs -->
<rect x="8" y="571" width="888" height="19" fill="#f0f0f0"/>
<path d="M894.5 571v19" stroke="#a8a8a8"/>
<rect x="172.5" y="570.5" width="79" height="19" fill="#fff" stroke="#8a8a8a"/>
<path d="M92.5 575v11M332.5 575v11" stroke="#b0b0b0"/>
<g font-size="11.5">
<text x="22" y="584" fill="#6d6d6d" textLength="60" lengthAdjust="spacingAndGlyphs">EURUSD,H4</text>
<text x="102" y="584" fill="#6d6d6d" textLength="58" lengthAdjust="spacingAndGlyphs">GBPUSD,M5</text>
<text x="182" y="584" fill="#000" textLength="59" lengthAdjust="spacingAndGlyphs">EURUSD,H1</text>
<text x="263" y="584" fill="#6d6d6d" textLength="57" lengthAdjust="spacingAndGlyphs">GBPUSD,H1</text>
</g>
<path d="M871 577v8l-4-4z" fill="#a8a8a8"/><path d="M885 577v8l4-4z" fill="#a8a8a8"/>

<!-- status bar -->
<rect x="8" y="590" width="888" height="22" fill="#f0f0f0"/>
<path stroke="#c8c8c8" d="M170.5 594v16M287.5 594v16M388.5 594v16M459.5 594v16M531.5 594v16M599.5 594v16M669.5 594v16M735.5 594v16"/>
<g font-size="11.5" fill="#000">
<text x="10" y="606" textLength="135" lengthAdjust="spacingAndGlyphs">Для справки, нажмите F1</text>
<text x="176" y="606" textLength="37" lengthAdjust="spacingAndGlyphs">Default</text>
<text x="292" y="606" textLength="84" lengthAdjust="spacingAndGlyphs">2011.04.22 21:00</text>
<text x="393" y="606" textLength="49" lengthAdjust="spacingAndGlyphs">O: 1.4547</text>
<text x="465" y="606" textLength="46" lengthAdjust="spacingAndGlyphs">H: 1.4550</text>
<text x="537" y="606" textLength="42" lengthAdjust="spacingAndGlyphs">L: 1.4544</text>
<text x="605" y="606" textLength="44" lengthAdjust="spacingAndGlyphs">C: 1.4546</text>
<text x="674" y="606" textLength="30" lengthAdjust="spacingAndGlyphs">V: 127</text>
<text x="799" y="606" textLength="45" lengthAdjust="spacingAndGlyphs">768/3 kb</text>
</g>
<path stroke="#6b7f1a" stroke-width="2" d="M741 597v8M744 597v8M747 597v8M750 597v8M753 599v6M756 600v5M759 601v4M762 601v4"/>
<path stroke="#1f3f5f" stroke-width="2" d="M741 605v5M744 605v5M747 605v5M750 605v5M753 605v5M756 605v5M759 605v5M762 605v5"/>
<path stroke="#a0a0a0" stroke-dasharray="1.5 1.5" d="M884 611l10-10M888 611l6-6M892 611l2-2M880 611l14-14"/>

<path d="M0 618.5h904" stroke="#6a7d97"/>
</svg>
</body></html>
